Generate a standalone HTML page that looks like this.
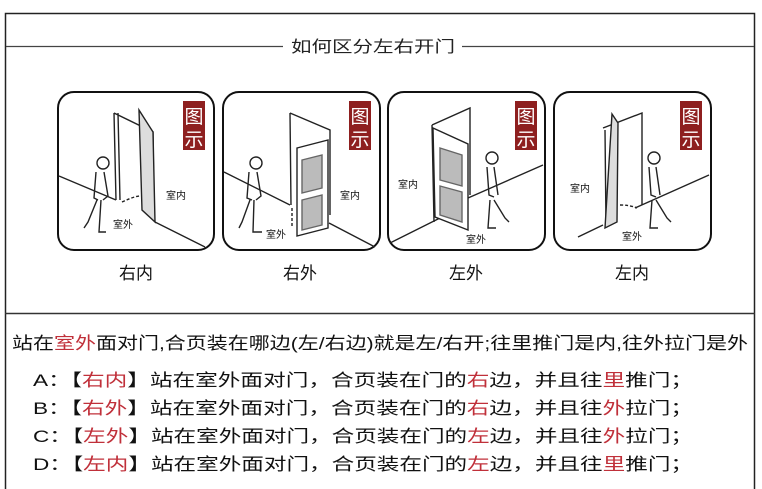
<!DOCTYPE html>
<html><head><meta charset="utf-8"><style>
html,body{margin:0;padding:0;background:#fff;}
svg{display:block;font-family:"Liberation Sans","Noto Sans CJK SC",sans-serif;}
</style></head><body>
<svg width="762" height="489" viewBox="0 0 762 489" xmlns="http://www.w3.org/2000/svg">
<rect x="0" y="0" width="762" height="489" fill="#fff"/>
<path d="M5.5 495 V13.5 H754.5 V495" fill="none" stroke="#222" stroke-width="1.5"/>
<line x1="5" y1="313.5" x2="755" y2="313.5" stroke="#333" stroke-width="1.5"/>
<line x1="6" y1="46.5" x2="283" y2="46.5" stroke="#444" stroke-width="1.2"/>
<line x1="462" y1="46.5" x2="754" y2="46.5" stroke="#444" stroke-width="1.2"/>
<text x="291" y="52" font-size="16" fill="#222" textLength="164" lengthAdjust="spacingAndGlyphs">如何区分左右开门</text>

<g fill="none" stroke="#111" stroke-width="2">
<rect x="58" y="92" width="156" height="158" rx="16"/>
<rect x="223" y="92" width="157" height="158" rx="16"/>
<rect x="388" y="92" width="157" height="158" rx="16"/>
<rect x="554" y="92" width="157" height="158" rx="16"/>
</g>
<g fill="#8e1f1f">
<rect x="183" y="101" width="22" height="49"/>
<rect x="349" y="101" width="22" height="49"/>
<rect x="515" y="101" width="22" height="49"/>
<rect x="680" y="101" width="22" height="49"/>
</g>
<g font-size="19" fill="#fff" text-anchor="middle">
<text x="194" y="123">图</text><text x="194" y="146">示</text>
<text x="360" y="123">图</text><text x="360" y="146">示</text>
<text x="526" y="123">图</text><text x="526" y="146">示</text>
<text x="691" y="123">图</text><text x="691" y="146">示</text>
</g>

<g stroke="#222" stroke-width="1.4" fill="none">
<line x1="59" y1="176" x2="116" y2="200"/>
<line x1="155" y1="222" x2="205" y2="247"/>
<path d="M114 113 L116 200 M118 113 L120 200 M114 113 L153 132 L154 220"/>
<path d="M139 110 L153 132 L155 222 L142 210 Z" fill="#ddd"/>
<path d="M122 202 Q135 196 140 196" stroke-dasharray="3 2"/>
<circle cx="103" cy="163" r="6"/>
<path d="M96 172 L94 198 L98 200 M104 172 L108 196 L103 200 M97 200 L88 222 L84 228 M101 200 L99 232 L106 232"/>
</g>
<g stroke="#222" stroke-width="1.4" fill="none">
<line x1="224" y1="172" x2="290" y2="205"/>
<line x1="329" y1="223" x2="375" y2="247"/>
<path d="M290 113 L291 205 M290 113 L330 130 L330 215"/>
<path d="M297 148 L328 140 L328 228 L297 236 Z" fill="#fff"/>
<path d="M302 160 L322 155 L322 188 L302 193 Z" fill="#bbb" stroke="#666"/>
<path d="M302 200 L322 195 L322 225 L302 230 Z" fill="#bbb" stroke="#666"/>
<path d="M292 208 L292 228" stroke-dasharray="3 2"/>
<circle cx="256" cy="163" r="6"/>
<path d="M249 172 L247 198 L252 200 M257 172 L261 196 L256 200 M250 200 L242 222 L239 228 M254 200 L253 232 L262 232"/>
</g>
<g stroke="#222" stroke-width="1.4" fill="none">
<line x1="390" y1="243" x2="440" y2="218"/>
<line x1="468" y1="198" x2="543" y2="165"/>
<path d="M432 125 L470 108 L470 195 M432 125 L434 222"/>
<path d="M433 128 L468 144 L468 230 L435 217 Z" fill="#fff"/>
<path d="M440 148 L462 155 L462 186 L440 180 Z" fill="#bbb" stroke="#666"/>
<path d="M440 186 L462 192 L462 222 L440 215 Z" fill="#bbb" stroke="#666"/>
<circle cx="492" cy="158" r="6"/>
<path d="M487 167 L489 195 L494 197 M494 167 L498 195 M490 200 L488 228 L496 228 M494 200 L505 218 L509 222"/>
</g>
<g stroke="#222" stroke-width="1.4" fill="none">
<line x1="578" y1="237" x2="603" y2="225"/>
<line x1="635" y1="208" x2="709" y2="175"/>
<path d="M603 128 L642 113 L642 205 M605 130 L606 225"/>
<path d="M612 114 L618 123 L617 222 L605 228 Z" fill="#ddd"/>
<path d="M620 205 Q630 205 637 208" stroke-dasharray="3 2"/>
<circle cx="654" cy="158" r="6"/>
<path d="M649 167 L651 195 L656 197 M656 167 L660 195 M652 200 L650 228 L658 228 M656 200 L667 218 L671 222"/>
</g>
<g font-size="10" fill="#111">
<text x="166" y="199">室内</text><text x="113" y="228">室外</text>
<text x="340" y="199">室内</text><text x="266" y="238">室外</text>
<text x="398" y="188">室内</text><text x="466" y="243">室外</text>
<text x="570" y="192">室内</text><text x="622" y="240">室外</text>
</g>
<g font-size="17" fill="#111" text-anchor="middle">
<text x="136" y="279">右内</text>
<text x="300" y="279">右外</text>
<text x="466" y="279">左外</text>
<text x="632" y="279">左内</text>
</g>

<g font-size="17" fill="#111">
<text x="12" y="349" textLength="736" lengthAdjust="spacingAndGlyphs">站在<tspan fill="#c0303a">室外</tspan>面对门,合页装在哪边(左/右边)就是左/右开;往里推门是内,往外拉门是外</text>
<text x="33" y="386" textLength="660" lengthAdjust="spacingAndGlyphs">A：【<tspan fill="#c0303a">右内</tspan>】站在室外面对门，合页装在门的<tspan fill="#c0303a">右</tspan>边，并且往<tspan fill="#c0303a">里</tspan>推门；</text>
<text x="33" y="414" textLength="660" lengthAdjust="spacingAndGlyphs">B：【<tspan fill="#c0303a">右外</tspan>】站在室外面对门，合页装在门的<tspan fill="#c0303a">右</tspan>边，并且往<tspan fill="#c0303a">外</tspan>拉门；</text>
<text x="33" y="442" textLength="660" lengthAdjust="spacingAndGlyphs">C：【<tspan fill="#c0303a">左外</tspan>】站在室外面对门，合页装在门的<tspan fill="#c0303a">左</tspan>边，并且往<tspan fill="#c0303a">外</tspan>拉门；</text>
<text x="33" y="470" textLength="660" lengthAdjust="spacingAndGlyphs">D：【<tspan fill="#c0303a">左内</tspan>】站在室外面对门，合页装在门的<tspan fill="#c0303a">左</tspan>边，并且往<tspan fill="#c0303a">里</tspan>推门；</text>
</g>
</svg>
</body></html>
